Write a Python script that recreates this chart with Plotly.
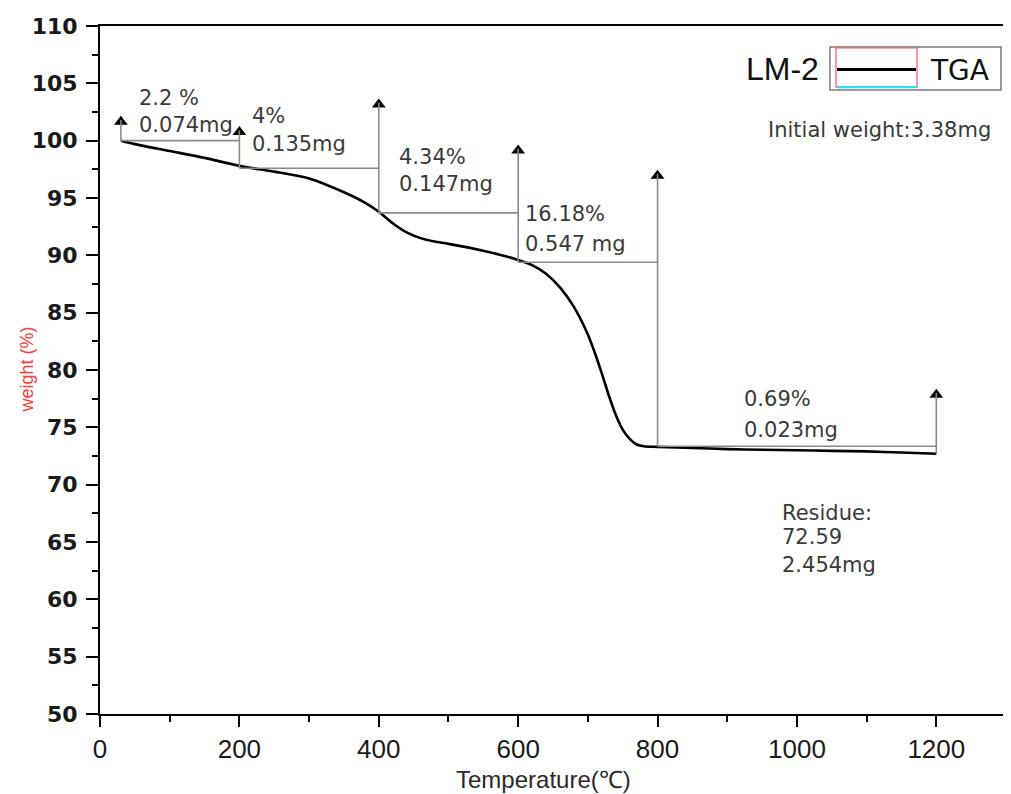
import plotly.graph_objects as go

# ---- TGA curve ----
temp = [30, 50, 100, 150, 200, 250, 300, 350, 380, 400, 420, 440, 460, 480, 500,
        550, 600, 620, 640, 660, 680, 700, 710, 720, 730, 740, 750, 760,
        770, 780, 800, 850, 900, 950, 1000, 1050, 1100, 1150, 1200]
weight = [100.0, 99.7, 99.1, 98.5, 97.8, 97.3, 96.7, 95.5, 94.6, 93.8, 92.8, 92.0,
          91.5, 91.2, 91.0, 90.4, 89.6, 89.15, 88.4, 87.2, 85.5, 83.1,
          81.5, 79.7, 77.8, 76.1, 74.8, 74.0, 73.5, 73.35, 73.3, 73.2, 73.1, 73.05,
          73.0, 72.95, 72.9, 72.8, 72.7]

# ---- step annotations ----
step_x = [30, 200, 400, 600, 800, 1200]
level_y = [100.0, 97.6, 93.7, 89.4, 73.35]          # horizontal segments between steps
arrow_base = [100.0, 97.6, 93.7, 89.4, 73.35, 72.7]
arrow_top = [102.2, 101.3, 103.7, 99.7, 97.5, 78.4]

label_x = [53, 215, 426, 607, 921]
label_pct = ["2.2 %", "4%", "4.34%", "16.18%", "0.69%"]
label_pct_y = [103.7, 102.15, 98.6, 93.6, 77.5]
label_mg = ["0.074mg", "0.135mg", "0.147mg", "0.547 mg", "0.023mg"]
label_mg_y = [101.35, 99.7, 96.2, 91.0, 74.8]

residue_lines = ["Residue:", "72.59", "2.454mg"]
residue_x = 976
residue_y = [67.5, 65.4, 63.0]
initial_text = "Initial weight:3.38mg"
initial_x, initial_y = 956, 100.9

x_ticks = [0, 200, 400, 600, 800, 1000, 1200]
y_ticks = [50, 55, 60, 65, 70, 75, 80, 85, 90, 95, 100, 105, 110]

TXT = "#3a3a3a"
ANN_FONT = dict(family="DejaVu Sans", size=21, color=TXT)

fig = go.Figure()

fig.add_trace(go.Scatter(x=temp, y=weight, mode="lines",
                         line=dict(color="black", width=2.6, shape="spline", smoothing=0.8),
                         showlegend=False, hoverinfo="skip"))

# horizontal step lines
for i, lv in enumerate(level_y):
    fig.add_shape(type="line", xref="x", yref="y",
                  x0=step_x[i], x1=step_x[i + 1], y0=lv, y1=lv,
                  line=dict(color="#8a8a8a", width=1.6))
# vertical arrow shafts
for xv, b, t in zip(step_x, arrow_base, arrow_top):
    fig.add_shape(type="line", xref="x", yref="y",
                  x0=xv, x1=xv, y0=b, y1=t - 0.4,
                  line=dict(color="#8a8a8a", width=1.6))
# arrow heads
fig.add_trace(go.Scatter(x=step_x, y=[t - 0.55 for t in arrow_top], mode="markers",
                         marker=dict(symbol="triangle-up", size=12, color="black"),
                         showlegend=False, hoverinfo="skip"))

annotations = []
for x, t1, y1, t2, y2 in zip(label_x, label_pct, label_pct_y, label_mg, label_mg_y):
    annotations.append(dict(x=x, y=y1, xref="x", yref="y", text=t1, showarrow=False,
                            xanchor="left", yanchor="middle", font=ANN_FONT))
    annotations.append(dict(x=x, y=y2, xref="x", yref="y", text=t2, showarrow=False,
                            xanchor="left", yanchor="middle", font=ANN_FONT))
for t, y in zip(residue_lines, residue_y):
    annotations.append(dict(x=residue_x, y=y, xref="x", yref="y", text=t, showarrow=False,
                            xanchor="left", yanchor="middle", font=ANN_FONT))
annotations.append(dict(x=initial_x, y=initial_y, xref="x", yref="y", text=initial_text,
                        showarrow=False, xanchor="left", yanchor="middle", font=ANN_FONT))

# axis titles
annotations.append(dict(x=-0.081, y=0.5, xref="paper", yref="paper", text="weight (%)",
                        textangle=-90, showarrow=False, xanchor="center", yanchor="middle",
                        font=dict(family="Liberation Sans", size=18, color="#ff3b3b")))
annotations.append(dict(x=0.49, y=-0.0945, xref="paper", yref="paper", text="Temperature(℃)",
                        showarrow=False, xanchor="center", yanchor="middle",
                        font=dict(family="Liberation Sans", size=24, color="#2a2a2a")))

# legend imitation
annotations.append(dict(x=0.7528, y=0.9375, xref="paper", yref="paper", text="LM-2",
                        showarrow=False, xanchor="center", yanchor="middle",
                        font=dict(family="Liberation Sans", size=32, color="#111")))
annotations.append(dict(x=0.9492, y=0.936, xref="paper", yref="paper", text="TGA",
                        showarrow=False, xanchor="center", yanchor="middle",
                        font=dict(family="DejaVu Sans", size=28, color="#111")))

fig.add_shape(type="rect", xref="paper", yref="paper", x0=0.8057, x1=0.9945,
              y0=0.907, y1=0.9695, line=dict(color="#7a7a7a", width=1.5))
fig.add_shape(type="rect", xref="paper", yref="paper", x0=0.8124, x1=0.9018,
              y0=0.9113, y1=0.968, line=dict(color="#ff5a5a", width=1.2))
fig.add_shape(type="line", xref="paper", yref="paper", x0=0.8135, x1=0.9018,
              y0=0.9113, y1=0.9113, line=dict(color="#30e4f4", width=2.2))
fig.add_shape(type="line", xref="paper", yref="paper", x0=0.8135, x1=0.9007,
              y0=0.9368, y1=0.9368, line=dict(color="black", width=3.2))
# right frame (blue)
fig.add_shape(type="line", xref="paper", yref="paper", x0=1, x1=1, y0=0, y1=1,
              line=dict(color="#2a2aa8", width=2.2))

# page body adds an 8px offset, so the figure is sized to land the plot area
# at the reference position
fig.update_layout(
    width=1003, height=786,
    margin=dict(l=92, r=5, t=18, b=80, autoexpand=False),
    paper_bgcolor="white", plot_bgcolor="white",
    annotations=annotations,
    showlegend=False,
)
fig.update_xaxes(
    range=[0, 1300], tickvals=x_ticks, ticktext=[str(v) for v in x_ticks],
    ticks="outside", ticklen=11, tickwidth=2, tickcolor="black",
    minor=dict(dtick=100, ticks="outside", ticklen=6, tickwidth=2, tickcolor="black"),
    showline=True, linecolor="black", linewidth=2, mirror=True,
    showgrid=False, zeroline=False, automargin=False,
    tickfont=dict(family="Liberation Sans", size=26, color="#1a1a1a"),
)
fig.update_yaxes(
    range=[50, 110], tickvals=y_ticks, ticktext=[str(v) for v in y_ticks],
    ticks="outside", ticklen=12, tickwidth=2, tickcolor="black",
    minor=dict(dtick=2.5, ticks="outside", ticklen=6, tickwidth=2, tickcolor="black"),
    showline=True, linecolor="black", linewidth=2, mirror=False,
    showgrid=False, zeroline=False, automargin=False,
    tickfont=dict(family="DejaVu Sans", size=22, color="#1a1a1a", weight="bold"),
    ticklabelstandoff=4,
)

fig.write_html("out.html")
